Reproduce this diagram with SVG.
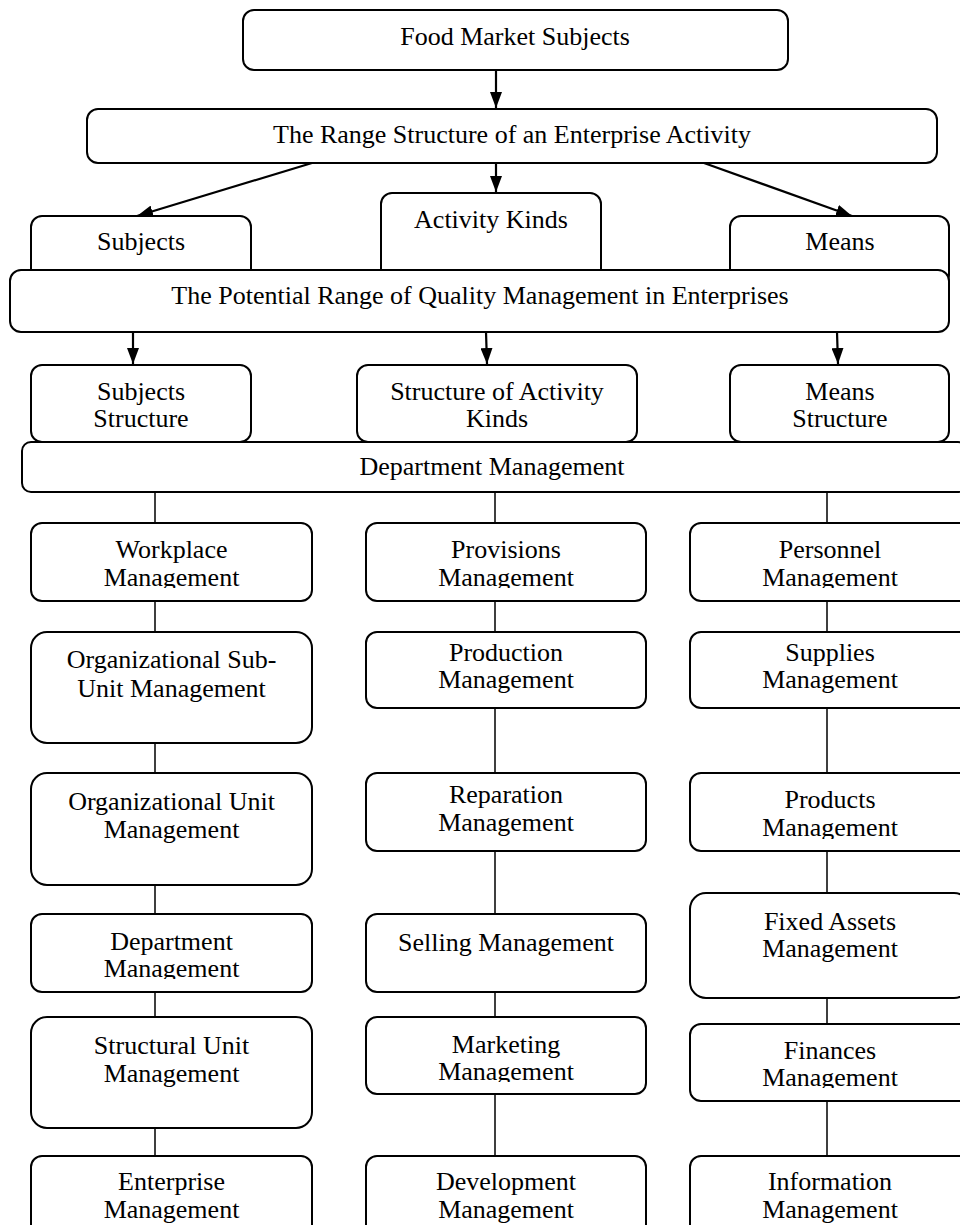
<svg xmlns="http://www.w3.org/2000/svg" width="960" height="1225" viewBox="0 0 960 1225">
<style>
.box{fill:#fff;stroke:#000;stroke-width:2}
.t{font-family:"Liberation Serif","Times New Roman",serif;font-size:26px;fill:#000;text-anchor:middle}
.arr{stroke:#000;stroke-width:2.2;fill:none;marker-end:url(#ah)}
.ln{stroke:#000;stroke-width:1.5;fill:none}
</style>
<defs>
<marker id="ah" viewBox="0 0 16 12" markerWidth="16" markerHeight="12" refX="16" refY="6" orient="auto" markerUnits="userSpaceOnUse">
<path d="M0,0 L16,6 L0,12 z" fill="#000"/>
</marker>
<clipPath id="c1"><rect x="0" y="0" width="960" height="588"/></clipPath>
<clipPath id="c2"><rect x="0" y="0" width="960" height="839"/></clipPath>
<clipPath id="c3"><rect x="0" y="0" width="960" height="979"/></clipPath>
<clipPath id="c4"><rect x="0" y="0" width="960" height="1082"/></clipPath>
<clipPath id="c5"><rect x="0" y="0" width="960" height="1088"/></clipPath>
</defs>

<g id="connectors">
<line class="arr" x1="496" y1="70" x2="496" y2="108"/>
<line class="arr" x1="312" y1="163" x2="137" y2="216"/>
<line class="arr" x1="496" y1="163" x2="496" y2="192"/>
<line class="arr" x1="704" y1="163" x2="852" y2="216"/>
<line class="arr" x1="133" y1="332" x2="133" y2="364"/>
<line class="arr" x1="486" y1="332" x2="487" y2="364"/>
<line class="arr" x1="837" y1="332" x2="838" y2="364"/>
<path class="ln" d="M155,492V523 M155,601V632 M155,743V773 M155,885V914 M155,992V1017 M155,1128V1156"/>
<path class="ln" d="M495,492V523 M495,601V632 M495,708V773 M495,851V914 M495,992V1017 M495,1094V1156"/>
<path class="ln" d="M827,492V523 M827,601V632 M827,708V773 M827,851V893 M827,998V1024 M827,1101V1156"/>
</g>

<g id="n-food"><rect class="box" x="243" y="10" width="545" height="60" rx="11"/><text class="t" x="515" y="45">Food Market Subjects</text></g>
<g id="n-range"><rect class="box" x="87" y="109" width="850" height="54" rx="11"/><text class="t" x="512" y="143">The Range Structure of an Enterprise Activity</text></g>
<g id="n-subjects"><rect class="box" x="31" y="216" width="220" height="70" rx="11"/><text class="t" x="141" y="250">Subjects</text></g>
<g id="n-activity"><rect class="box" x="381" y="193" width="220" height="93" rx="11"/><text class="t" x="491" y="228">Activity Kinds</text></g>
<g id="n-means"><rect class="box" x="730" y="216" width="219" height="70" rx="11"/><text class="t" x="840" y="250">Means</text></g>
<g id="n-potential"><rect class="box" x="10" y="270" width="939" height="62" rx="11"/><text class="t" x="480" y="304">The Potential Range of Quality Management in Enterprises</text></g>

<g id="n-subjstruct"><rect class="box" x="31" y="365" width="220" height="77" rx="11"/><text class="t" x="141" y="400">Subjects</text><text class="t" x="141" y="427">Structure</text></g>
<g id="n-actstruct"><rect class="box" x="357" y="365" width="280" height="77" rx="11"/><text class="t" x="497" y="400">Structure of Activity</text><text class="t" x="497" y="427">Kinds</text></g>
<g id="n-meansstruct"><rect class="box" x="730" y="365" width="219" height="77" rx="11"/><text class="t" x="840" y="400">Means</text><text class="t" x="840" y="427">Structure</text></g>
<g id="n-deptwide"><rect class="box" x="22" y="442" width="945" height="50" rx="9"/><text class="t" x="492" y="475">Department Management</text></g>

<g id="n-workplace"><rect class="box" x="31" y="523" width="281" height="78" rx="11"/><g clip-path="url(#c1)"><text class="t" x="171.5" y="558">Workplace</text><text class="t" x="171.5" y="586">Management</text></g></g>
<g id="n-orgsub"><rect class="box" x="31" y="632" width="281" height="111" rx="16"/><text class="t" x="171.5" y="668">Organizational Sub-</text><text class="t" x="171.5" y="697">Unit Management</text></g>
<g id="n-orgunit"><rect class="box" x="31" y="773" width="281" height="112" rx="16"/><text class="t" x="171.5" y="810">Organizational Unit</text><text class="t" x="171.5" y="838">Management</text></g>
<g id="n-dept"><rect class="box" x="31" y="914" width="281" height="78" rx="11"/><g clip-path="url(#c3)"><text class="t" x="171.5" y="950">Department</text><text class="t" x="171.5" y="977">Management</text></g></g>
<g id="n-structural"><rect class="box" x="31" y="1017" width="281" height="111" rx="16"/><text class="t" x="171.5" y="1054">Structural Unit</text><text class="t" x="171.5" y="1082">Management</text></g>
<g id="n-enterprise"><rect class="box" x="31" y="1156" width="281" height="90" rx="11"/><text class="t" x="171.5" y="1190">Enterprise</text><text class="t" x="171.5" y="1218">Management</text></g>

<g id="n-provisions"><rect class="box" x="366" y="523" width="280" height="78" rx="11"/><g clip-path="url(#c1)"><text class="t" x="506" y="558">Provisions</text><text class="t" x="506" y="586">Management</text></g></g>
<g id="n-production"><rect class="box" x="366" y="632" width="280" height="76" rx="11"/><text class="t" x="506" y="661">Production</text><text class="t" x="506" y="688">Management</text></g>
<g id="n-reparation"><rect class="box" x="366" y="773" width="280" height="78" rx="11"/><text class="t" x="506" y="803">Reparation</text><text class="t" x="506" y="831">Management</text></g>
<g id="n-selling"><rect class="box" x="366" y="914" width="280" height="78" rx="11"/><text class="t" x="506" y="951">Selling Management</text></g>
<g id="n-marketing"><rect class="box" x="366" y="1017" width="280" height="77" rx="11"/><g clip-path="url(#c4)"><text class="t" x="506" y="1053">Marketing</text><text class="t" x="506" y="1080">Management</text></g></g>
<g id="n-development"><rect class="box" x="366" y="1156" width="280" height="90" rx="11"/><text class="t" x="506" y="1190">Development</text><text class="t" x="506" y="1218">Management</text></g>

<g id="n-personnel"><rect class="box" x="690" y="523" width="280" height="78" rx="11"/><g clip-path="url(#c1)"><text class="t" x="830" y="558">Personnel</text><text class="t" x="830" y="586">Management</text></g></g>
<g id="n-supplies"><rect class="box" x="690" y="632" width="280" height="76" rx="11"/><text class="t" x="830" y="661">Supplies</text><text class="t" x="830" y="688">Management</text></g>
<g id="n-products"><rect class="box" x="690" y="773" width="280" height="78" rx="11"/><g clip-path="url(#c2)"><text class="t" x="830" y="808">Products</text><text class="t" x="830" y="836">Management</text></g></g>
<g id="n-fixed"><rect class="box" x="690" y="893" width="280" height="105" rx="16"/><text class="t" x="830" y="930">Fixed Assets</text><text class="t" x="830" y="957">Management</text></g>
<g id="n-finances"><rect class="box" x="690" y="1024" width="280" height="77" rx="11"/><g clip-path="url(#c5)"><text class="t" x="830" y="1059">Finances</text><text class="t" x="830" y="1086">Management</text></g></g>
<g id="n-information"><rect class="box" x="690" y="1156" width="280" height="90" rx="11"/><text class="t" x="830" y="1190">Information</text><text class="t" x="830" y="1218">Management</text></g>
</svg>
